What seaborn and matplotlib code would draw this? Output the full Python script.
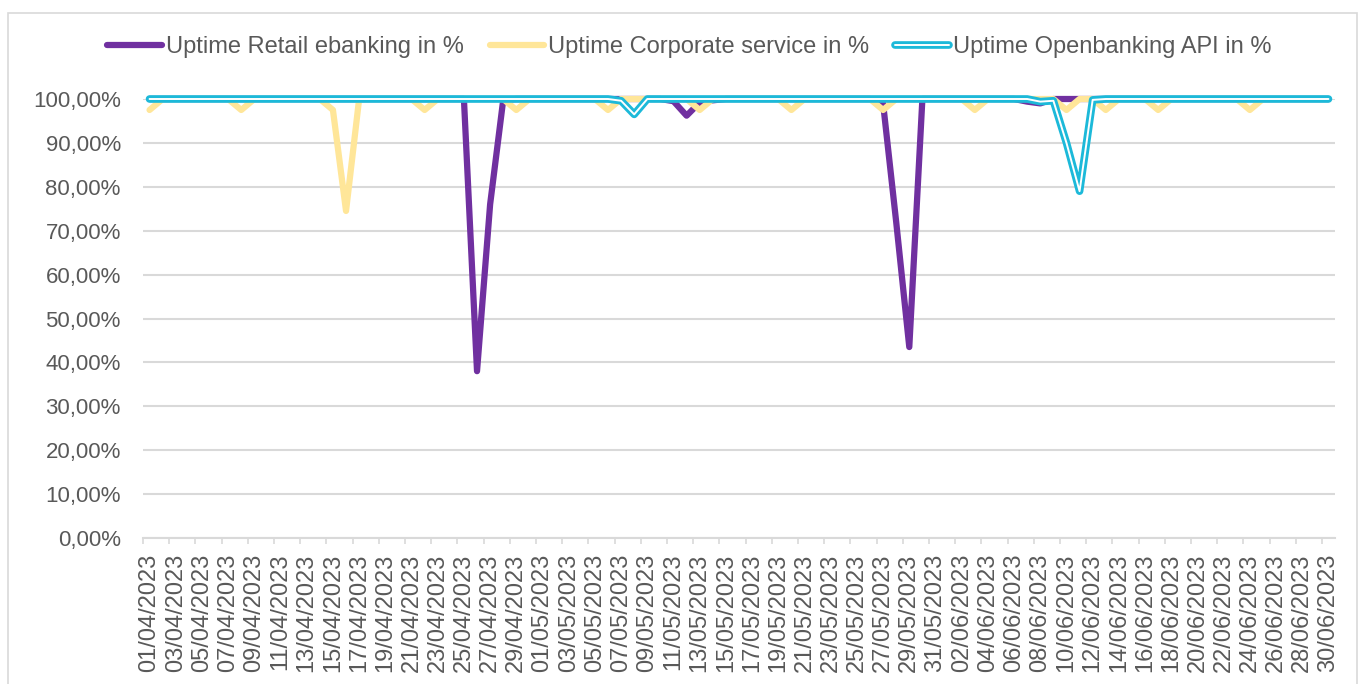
import matplotlib
matplotlib.use('Agg')
import matplotlib.pyplot as plt
import matplotlib.patheffects as pe
from matplotlib.patches import Rectangle
import numpy as np
import pandas as pd
import seaborn as sns

dates = pd.date_range('2023-04-01', '2023-06-30').strftime('%d/%m/%Y')

# daily uptime in %, 01/04 .. 30/06 (10 values per row)
retail = [
    100, 100, 100, 100, 100, 100, 100, 100, 100, 100,
    100, 100, 100, 100, 100, 100, 100, 100, 100, 100,
    100, 100, 100, 100, 100, 38.0, 76.0, 99.8, 100, 100,
    100, 100, 100, 100, 100, 100, 100, 100, 100, 100,
    99.5, 96.2, 99.2, 99.7, 100, 100, 100, 100, 100, 100,
    100, 100, 100, 100, 100, 100, 99.0, 72.0, 43.5, 100,
    100, 100, 100, 100, 100, 100, 100, 99.4, 99.0, 100,
    100, 100, 100, 100, 100, 100, 100, 100, 100, 100,
    100, 100, 100, 100, 100, 100, 100, 100, 100, 100,
    100,
]
corporate = [
    97.5, 100, 100, 100, 100, 100, 100, 97.5, 100, 100,
    100, 100, 100, 100, 97.5, 74.5, 100, 100, 100, 100,
    100, 97.5, 100, 100, 100, 100, 100, 100, 97.5, 100,
    100, 100, 100, 100, 100, 97.5, 100, 100, 100, 100,
    100, 100, 97.5, 100, 100, 100, 100, 100, 100, 97.5,
    100, 100, 100, 100, 100, 100, 97.5, 100, 100, 100,
    100, 100, 100, 97.5, 100, 100, 100, 100, 100, 100,
    97.5, 100, 100, 97.5, 100, 100, 100, 97.5, 100, 100,
    100, 100, 100, 100, 97.5, 100, 100, 100, 100, 100,
    100,
]
openbanking = [
    100, 100, 100, 100, 100, 100, 100, 100, 100, 100,
    100, 100, 100, 100, 100, 100, 100, 100, 100, 100,
    100, 100, 100, 100, 100, 100, 100, 100, 100, 100,
    100, 100, 100, 100, 100, 100, 99.6, 96.5, 100, 100,
    100, 100, 100, 100, 100, 100, 100, 100, 100, 100,
    100, 100, 100, 100, 100, 100, 100, 100, 100, 100,
    100, 100, 100, 100, 100, 100, 100, 100, 99.4, 99.6,
    90.0, 79.0, 99.8, 100, 100, 100, 100, 100, 100, 100,
    100, 100, 100, 100, 100, 100, 100, 100, 100, 100,
    100,
]

names = ['Uptime Retail ebanking in %', 'Uptime Corporate service in %',
         'Uptime Openbanking API in %']
colors = ['#7030A0', '#FFE699', '#1CB9D9']
yticks = list(range(0, 101, 10))

df = pd.DataFrame({'day': np.arange(len(dates)),
                   names[0]: retail, names[1]: corporate, names[2]: openbanking})
df = df.melt(id_vars='day', var_name='series', value_name='uptime')

sns.set_style('white')
plt.rcParams['font.family'] = ['Liberation Sans', 'DejaVu Sans']
grey_txt = '#595959'
grid_col = '#D9D9D9'

fig = plt.figure(figsize=(13.71, 6.84), dpi=100)
ax = fig.add_axes([143 / 1371, 1 - 538 / 684, 1192 / 1371, 439 / 684])

sns.lineplot(data=df, x='day', y='uptime', hue='series', hue_order=names,
             palette=colors, linewidth=4.5, ax=ax, legend=False)

for line in ax.lines:
    line.set_clip_on(False)
    line.set_solid_joinstyle('round')
    line.set_solid_capstyle('round')
ax.lines[2].set_linewidth(5.5)
ax.lines[2].set_path_effects([pe.Normal(),
                              pe.Stroke(linewidth=1.4, foreground='white')])

ax.set_xlim(-0.5, len(dates) - 0.5)
ax.set_ylim(0, 100)
ax.set_xlabel('')
ax.set_ylabel('')

ax.set_xticks(np.arange(0, len(dates), 2))
ax.set_xticklabels(dates[::2], rotation=90)
ax.set_xticks(np.arange(-0.5, len(dates), 2), minor=True)
ax.tick_params(axis='x', which='major', length=0, pad=11, labelsize=17,
               labelcolor=grey_txt)
ax.tick_params(axis='x', which='minor', bottom=True, length=4, width=1.2,
               color=grid_col, direction='out')

ax.set_yticks(yticks)
ax.set_yticklabels(['{:.2f}%'.format(v).replace('.', ',') for v in yticks])
ax.tick_params(axis='y', length=0, pad=16, labelsize=16, labelcolor=grey_txt)
ax.yaxis.grid(True, color=grid_col, linewidth=1.5)
ax.set_axisbelow(True)

for s in ['left', 'right', 'top']:
    ax.spines[s].set_visible(False)
ax.spines['bottom'].set_color(grid_col)
ax.spines['bottom'].set_linewidth(1.5)

fig.legend(ax.lines[:3], names, loc='center', bbox_to_anchor=(0.503, 0.931),
           ncol=3, frameon=False, fontsize=17, handlelength=2.3,
           handletextpad=0.17, columnspacing=1.1, labelcolor=grey_txt)

fig.patches.append(Rectangle((8 / 1371, -0.1), 1357 / 1371 - 8 / 1371, 1.1 - 13 / 684,
                             transform=fig.transFigure, fill=False,
                             edgecolor=grid_col, linewidth=1.2))

fig.savefig('out.png', dpi=100, facecolor='white')
